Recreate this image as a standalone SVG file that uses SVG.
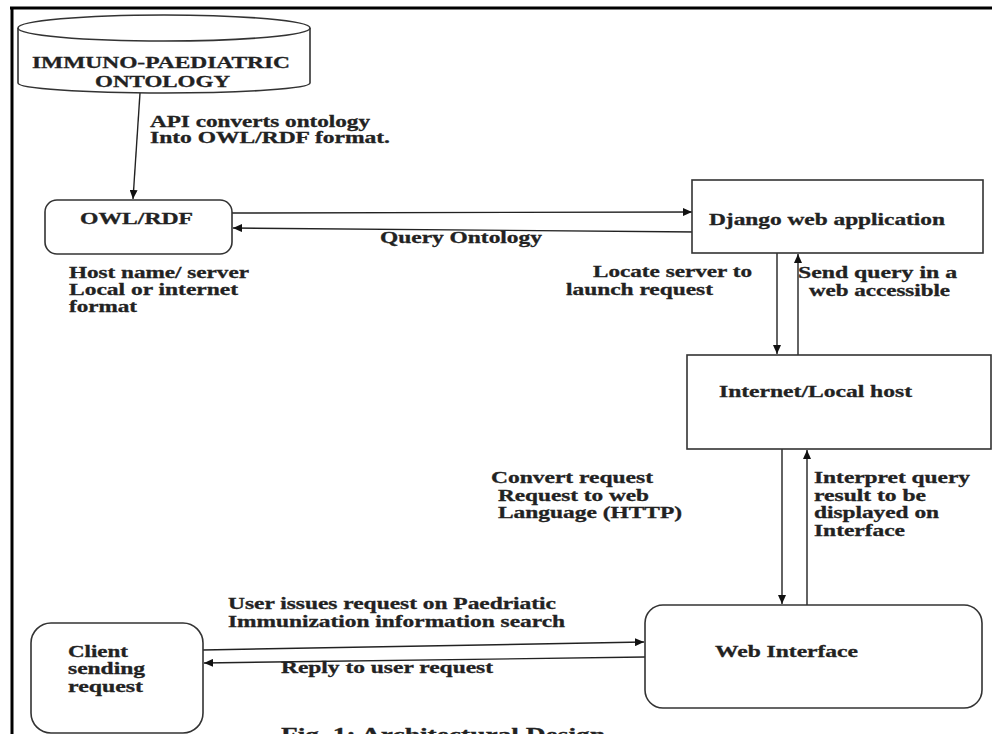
<svg xmlns="http://www.w3.org/2000/svg" width="992" height="734" viewBox="0 0 992 734">
<style>
.box{fill:#fff;stroke:#333;stroke-width:1.6}
.t{font-family:"Liberation Serif","Times New Roman",serif;font-weight:bold;font-size:16px;fill:#222;stroke:#222;stroke-width:0.3}
.cap{font-size:19px}
.c{fill:none;stroke:#222;stroke-width:1.4}
</style>
<defs>
<marker id="ah" markerUnits="userSpaceOnUse" markerWidth="10" markerHeight="8" refX="9" refY="4" orient="auto">
<path d="M0,0 L9,4 L0,8 Z" fill="#111"/>
</marker>
</defs>
<rect width="992" height="734" fill="#fff"/>
<g id="frame">
<path d="M10,8 L992,8" stroke="#000" stroke-width="3" fill="none"/>
<path d="M12,8 L12,734" stroke="#000" stroke-width="3" fill="none"/>
</g>
<g id="connectors">
<path class="c" d="M140,93 L133,199" marker-end="url(#ah)"/>
<path class="c" d="M232,213 L692,212" marker-end="url(#ah)"/>
<path class="c" d="M697,232 L233,228" marker-end="url(#ah)"/>
<path class="c" d="M777,253 L777,354" marker-end="url(#ah)"/>
<path class="c" d="M798,355 L798,254" marker-end="url(#ah)"/>
<path class="c" d="M782,449 L782,604" marker-end="url(#ah)"/>
<path class="c" d="M807,605 L807,450" marker-end="url(#ah)"/>
<path class="c" d="M203,650 L644,642" marker-end="url(#ah)"/>
<path class="c" d="M645,657 L204,663" marker-end="url(#ah)"/>
</g>
<g id="ontology">
<path class="box" d="M18,28 L18,83 A146,10 0 0 0 310,83 L310,28"/>
<ellipse class="box" cx="164" cy="28" rx="146" ry="13"/>
<text class="t" x="32" y="68" textLength="258" lengthAdjust="spacingAndGlyphs">IMMUNO-PAEDIATRIC</text>
<text class="t" x="95" y="87" textLength="135" lengthAdjust="spacingAndGlyphs">ONTOLOGY</text>
</g>
<g id="label-api">
<text class="t" x="150" y="127" textLength="220" lengthAdjust="spacingAndGlyphs">API converts ontology</text>
<text class="t" x="150" y="143" textLength="240" lengthAdjust="spacingAndGlyphs">Into OWL/RDF format.</text>
</g>
<g id="owlrdf">
<rect class="box" x="45" y="200" width="187" height="54" rx="12"/>
<text class="t" x="80" y="224" textLength="113" lengthAdjust="spacingAndGlyphs">OWL/RDF</text>
</g>
<g id="label-host">
<text class="t" x="69" y="278" textLength="180" lengthAdjust="spacingAndGlyphs">Host name/ server</text>
<text class="t" x="69" y="295" textLength="169" lengthAdjust="spacingAndGlyphs">Local or internet</text>
<text class="t" x="69" y="312" textLength="68" lengthAdjust="spacingAndGlyphs">format</text>
</g>
<g id="label-query">
<text class="t" x="380" y="243" textLength="162" lengthAdjust="spacingAndGlyphs">Query Ontology</text>
</g>
<g id="django">
<rect class="box" x="692" y="180" width="291" height="73"/>
<text class="t" x="709" y="225" textLength="236" lengthAdjust="spacingAndGlyphs">Django web application</text>
</g>
<g id="label-locate">
<text class="t" x="593" y="277" textLength="159" lengthAdjust="spacingAndGlyphs">Locate server to</text>
<text class="t" x="566" y="295" textLength="147" lengthAdjust="spacingAndGlyphs">launch request</text>
</g>
<g id="label-send">
<text class="t" x="798" y="278" textLength="159" lengthAdjust="spacingAndGlyphs">Send query in a</text>
<text class="t" x="809" y="296" textLength="141" lengthAdjust="spacingAndGlyphs">web accessible</text>
</g>
<g id="internet">
<rect class="box" x="687" y="355" width="304" height="94"/>
<text class="t" x="719" y="397" textLength="193" lengthAdjust="spacingAndGlyphs">Internet/Local host</text>
</g>
<g id="label-convert">
<text class="t" x="491" y="483" textLength="162" lengthAdjust="spacingAndGlyphs">Convert request</text>
<text class="t" x="498" y="501" textLength="151" lengthAdjust="spacingAndGlyphs">Request to web</text>
<text class="t" x="498" y="518" textLength="184" lengthAdjust="spacingAndGlyphs">Language (HTTP)</text>
</g>
<g id="label-interpret">
<text class="t" x="814" y="483" textLength="156" lengthAdjust="spacingAndGlyphs">Interpret query</text>
<text class="t" x="814" y="501" textLength="112" lengthAdjust="spacingAndGlyphs">result to be</text>
<text class="t" x="814" y="518" textLength="125" lengthAdjust="spacingAndGlyphs">displayed on</text>
<text class="t" x="814" y="536" textLength="91" lengthAdjust="spacingAndGlyphs">Interface</text>
</g>
<g id="web">
<rect class="box" x="645" y="605" width="337" height="103" rx="18"/>
<text class="t" x="715" y="657" textLength="143" lengthAdjust="spacingAndGlyphs">Web Interface</text>
</g>
<g id="label-user">
<text class="t" x="228" y="609" textLength="328" lengthAdjust="spacingAndGlyphs">User issues request on Paedriatic</text>
<text class="t" x="228" y="627" textLength="337" lengthAdjust="spacingAndGlyphs">Immunization information search</text>
</g>
<g id="label-reply">
<text class="t" x="281" y="673" textLength="212" lengthAdjust="spacingAndGlyphs">Reply to user request</text>
</g>
<g id="client">
<rect class="box" x="31" y="623" width="172" height="110" rx="20"/>
<text class="t" x="68" y="657" textLength="60" lengthAdjust="spacingAndGlyphs">Client</text>
<text class="t" x="68" y="674" textLength="77" lengthAdjust="spacingAndGlyphs">sending</text>
<text class="t" x="68" y="692" textLength="75" lengthAdjust="spacingAndGlyphs">request</text>
</g>
<g id="caption">
<text class="t cap" x="281" y="741" textLength="324" lengthAdjust="spacingAndGlyphs">Fig. 1: Architectural Design</text>
</g>
</svg>
